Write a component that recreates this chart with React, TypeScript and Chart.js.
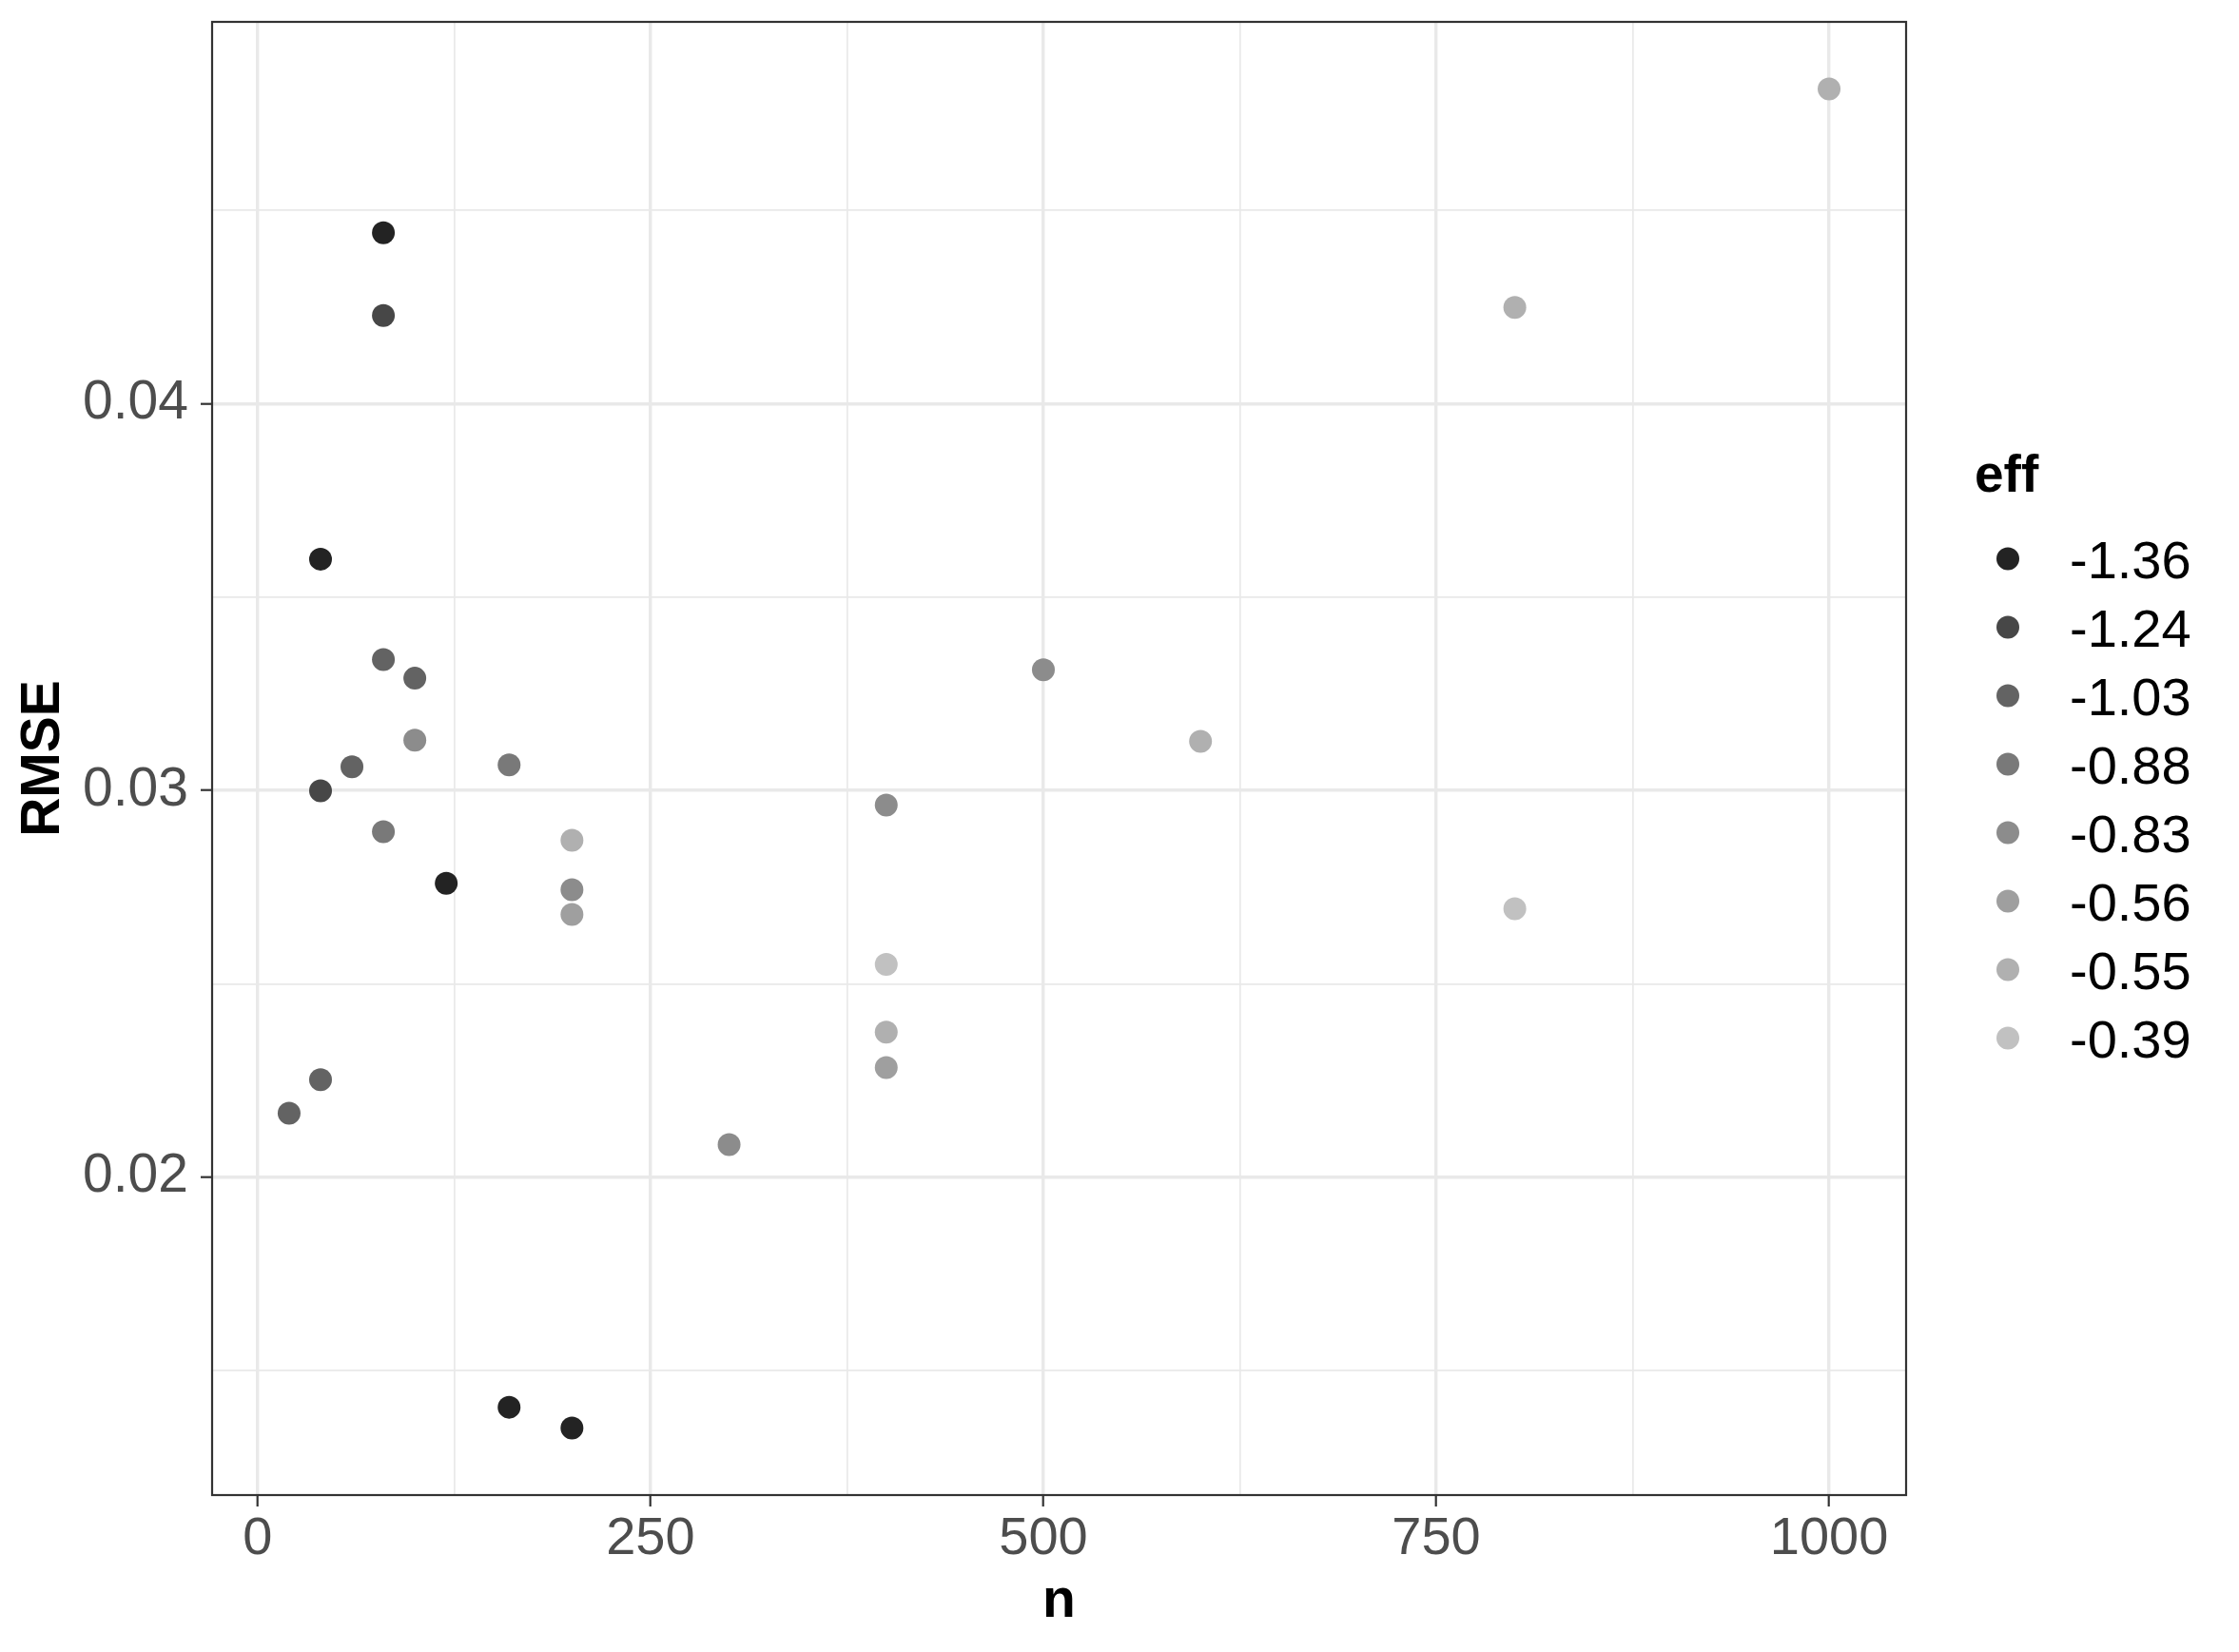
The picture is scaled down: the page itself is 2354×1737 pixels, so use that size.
import { useEffect, useRef } from "react";
import { Chart, registerables } from "chart.js";

Chart.register(...registerables);

// ---- data ----
const effLevels = ["-1.36", "-1.24", "-1.03", "-0.88", "-0.83", "-0.56", "-0.55", "-0.39"];
const effColors = ["#232323", "#474747", "#636363", "#797979", "#8c8c8c", "#9f9f9f", "#b0b0b0", "#c1c1c1"];

const nEffM136 = [40, 80, 120, 160, 200];
const rmseEffM136 = [0.03598, 0.04442, 0.0276, 0.01405, 0.01351];
const nEffM124 = [40, 80];
const rmseEffM124 = [0.02999, 0.04228];
const nEffM103 = [20, 40, 60, 80, 100];
const rmseEffM103 = [0.02165, 0.02252, 0.03061, 0.03338, 0.0329];
const nEffM088 = [80, 160];
const rmseEffM088 = [0.02893, 0.03066];
const nEffM083 = [100, 200, 300, 400, 500];
const rmseEffM083 = [0.0313, 0.02743, 0.02084, 0.02962, 0.03312];
const nEffM056 = [200, 400];
const rmseEffM056 = [0.02679, 0.02283];
const nEffM055 = [200, 400, 600, 800, 1000];
const rmseEffM055 = [0.02871, 0.02375, 0.03127, 0.04249, 0.04814];
const nEffM039 = [400, 800];
const rmseEffM039 = [0.0255, 0.02694];

const groupN = [nEffM136, nEffM124, nEffM103, nEffM088, nEffM083, nEffM056, nEffM055, nEffM039];
const groupRmse = [rmseEffM136, rmseEffM124, rmseEffM103, rmseEffM088, rmseEffM083, rmseEffM056, rmseEffM055, rmseEffM039];

const xBreaks = [0, 250, 500, 750, 1000];
const xTickLabels = ["0", "250", "500", "750", "1000"];
const xMinorBreaks = [125, 375, 625, 875];
const yBreaks = [0.02, 0.03, 0.04];
const yTickLabels = ["0.02", "0.03", "0.04"];
const yMinorBreaks = [0.015, 0.025, 0.035, 0.045];

const xTitle = "n";
const yTitle = "RMSE";
const legendTitle = "eff";

// ---- helpers ----
const FONT = "'Liberation Sans', Arial, Helvetica, sans-serif";
const near = (a: number, b: number) => Math.abs(a - b) < 1e-9;
const majorIndex = (v: number, arr: number[]) => arr.findIndex((m) => near(m, v));

function expandRange(vals: number[]) {
  const lo = Math.min(...vals);
  const hi = Math.max(...vals);
  const pad = (hi - lo) * 0.05;
  return [lo - pad, hi + pad];
}

const panelBorder = {
  id: "panelBorder",
  afterDatasetsDraw(chart: any) {
    const { ctx, chartArea } = chart;
    const { left, top, right, bottom } = chartArea;
    ctx.save();
    ctx.strokeStyle = "#333333";
    ctx.lineWidth = 2.2;
    ctx.strokeRect(left, top, right - left, bottom - top);
    ctx.restore();
  },
};

const sideLegend = {
  id: "sideLegend",
  afterDraw(chart: any) {
    const { ctx, chartArea } = chart;
    const x0 = chartArea.right;
    ctx.save();
    ctx.fillStyle = "#000000";
    ctx.font = `bold 55px ${FONT}`;
    ctx.textAlign = "left";
    ctx.textBaseline = "alphabetic";
    ctx.fillText(legendTitle, x0 + 72, 517);
    chart.data.datasets.forEach((ds: any, i: number) => {
      const cy = 587.5 + i * 72;
      ctx.beginPath();
      ctx.fillStyle = ds.backgroundColor;
      ctx.arc(x0 + 107, cy, 12, 0, Math.PI * 2);
      ctx.fill();
      ctx.fillStyle = "#000000";
      ctx.font = `56px ${FONT}`;
      ctx.fillText(ds.label, x0 + 172, cy + 20);
    });
    ctx.restore();
  },
};

export default function App() {
  const canvasRef = useRef<HTMLCanvasElement | null>(null);

  useEffect(() => {
    if (!canvasRef.current) return;
    const allN = groupN.flat();
    const allR = groupRmse.flat();
    const [xMin, xMax] = expandRange(allN);
    const [yMin, yMax] = expandRange(allR);

    const datasets = effLevels.map((lab, i) => ({
      label: lab,
      data: groupN[i].map((n, j) => ({ x: n, y: groupRmse[i][j] })),
      backgroundColor: effColors[i],
      borderWidth: 0,
      pointRadius: 12,
      pointHoverRadius: 12,
    }));

    const chart = new Chart(canvasRef.current, {
      type: "scatter",
      data: { datasets },
      options: {
        animation: false,
        responsive: false,
        events: [],
        layout: { padding: { left: 0, top: 23, right: 350, bottom: 0 } },
        plugins: { legend: { display: false }, tooltip: { enabled: false } },
        scales: {
          x: {
            type: "linear",
            min: xMin,
            max: xMax,
            afterBuildTicks: (scale: any) => {
              scale.ticks = [...xBreaks, ...xMinorBreaks].sort((a, b) => a - b).map((v) => ({ value: v }));
            },
            afterFit: (scale: any) => {
              scale.height = 165;
              scale.paddingLeft = 0;
              scale.paddingRight = 0;
            },
            border: { display: false },
            grid: {
              color: "#e9e9e9",
              lineWidth: (c: any) => (c.tick && majorIndex(c.tick.value, xBreaks) >= 0 ? 3.4 : 1.7),
              tickColor: (c: any) => (c.tick && majorIndex(c.tick.value, xBreaks) >= 0 ? "#333333" : "rgba(0,0,0,0)"),
              tickWidth: 2.2,
              tickLength: 12,
              drawTicks: true,
            },
            ticks: {
              autoSkip: false,
              maxRotation: 0,
              padding: 7,
              color: "#4d4d4d",
              font: { family: FONT, size: 56, lineHeight: 1 },
              callback: (v: any) => {
                const k = majorIndex(Number(v), xBreaks);
                return k >= 0 ? xTickLabels[k] : "";
              },
            },
            title: {
              display: true,
              text: xTitle,
              color: "#000000",
              font: { family: FONT, size: 57, weight: "bold" },
              padding: { top: 0, bottom: 19 },
            },
          },
          y: {
            type: "linear",
            min: yMin,
            max: yMax,
            afterBuildTicks: (scale: any) => {
              scale.ticks = [...yBreaks, ...yMinorBreaks].sort((a, b) => a - b).map((v) => ({ value: v }));
            },
            afterFit: (scale: any) => {
              scale.width = 223;
              scale.paddingTop = 0;
              scale.paddingBottom = 0;
            },
            border: { display: false },
            grid: {
              color: "#e9e9e9",
              lineWidth: (c: any) => (c.tick && majorIndex(c.tick.value, yBreaks) >= 0 ? 3.4 : 1.7),
              tickColor: (c: any) => (c.tick && majorIndex(c.tick.value, yBreaks) >= 0 ? "#333333" : "rgba(0,0,0,0)"),
              tickWidth: 2.2,
              tickLength: 12,
              drawTicks: true,
            },
            ticks: {
              autoSkip: false,
              padding: 13,
              color: "#4d4d4d",
              font: { family: FONT, size: 57, lineHeight: 1 },
              callback: (v: any) => {
                const k = majorIndex(Number(v), yBreaks);
                return k >= 0 ? yTickLabels[k] : "";
              },
            },
            title: {
              display: true,
              text: yTitle,
              color: "#000000",
              font: { family: FONT, size: 57, weight: "bold" },
              padding: { top: 12, bottom: 0 },
            },
          },
        },
      },
      plugins: [panelBorder, sideLegend],
    } as any);

    return () => chart.destroy();
  }, []);

  return (
    <div style={{ position: "absolute", left: 0, top: 0, width: 2354, height: 1737, background: "#ffffff" }}>
      <canvas ref={canvasRef} width={2354} height={1737} style={{ display: "block" }} />
    </div>
  );
}
